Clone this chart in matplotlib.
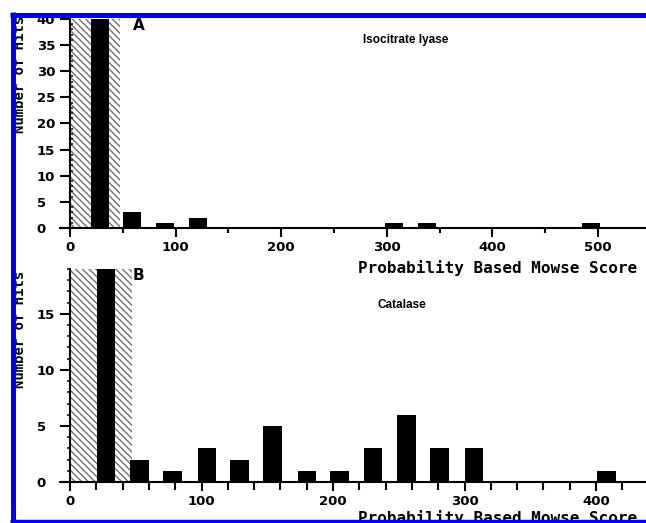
import numpy as np
import matplotlib
matplotlib.use("Agg")
import matplotlib.pyplot as plt
from matplotlib.lines import Line2D
from matplotlib.ticker import MultipleLocator

W, H = 646, 523

# panel A - isocitrate lyase (first bar runs off the scale)
a_centers = [28, 59, 90, 121, 307, 338, 493]
a_counts = [45, 3, 1, 2, 1, 1, 1]
# panel B - catalase
b_centers = [27.5, 53, 78, 104, 129, 154, 180, 205, 230.5, 256, 281, 307, 408]
b_counts = [22, 2, 1, 3, 2, 5, 1, 1, 3, 6, 3, 3, 1]

# shaded (hatched) score region, same in both panels
band = (1, 47)

xlabel = "Probability Based Mowse Score"
ylabel = "Number of Hits"

plt.rcParams['hatch.linewidth'] = 1.0

fig = plt.figure(figsize=(W / 100, H / 100), dpi=100)


def px(x0, y0, x1, y1):
    # pixel box (top-left origin) -> figure rect
    return [x0 / W, 1 - y1 / H, (x1 - x0) / W, (y1 - y0) / H]


tick_font = dict(family='DejaVu Sans', weight='bold', size=9.5)


def panel(rect, centers, counts, width, xlim, ylim, xmaj, xmin, ymaj, ymin_dir,
          xmin_len):
    ax = fig.add_axes(rect)
    ax.axvspan(band[0], band[1], facecolor='white', edgecolor='#707070',
               hatch='\\\\\\\\\\', linewidth=0, zorder=1)
    ax.bar(centers, counts, width=width, color='black', zorder=2)
    ax.set_xlim(*xlim)
    ax.set_ylim(*ylim)
    ax.spines['top'].set_visible(False)
    ax.spines['right'].set_visible(False)
    ax.spines['left'].set_position(('data', 0))
    for s in ('left', 'bottom'):
        ax.spines[s].set_linewidth(1.5)
        ax.spines[s].set_zorder(3)
    ax.xaxis.set_major_locator(MultipleLocator(xmaj))
    ax.xaxis.set_minor_locator(MultipleLocator(xmin))
    ax.yaxis.set_major_locator(MultipleLocator(ymaj))
    ax.yaxis.set_minor_locator(MultipleLocator(1))
    ax.tick_params(axis='x', which='major', direction='out', length=6.3, width=1.5, pad=3)
    ax.tick_params(axis='x', which='minor', direction='out', length=xmin_len, width=1.5)
    ax.tick_params(axis='y', which='major', direction='out', length=7, width=1.5, pad=17)
    ax.tick_params(axis='y', which='minor', direction=ymin_dir, length=2.3, width=1.1)
    ax.set_xticks(np.arange(0, xlim[1], xmaj))
    ax.set_yticks(np.arange(0, ylim[1] + 0.1, ymaj))
    for lbl in ax.get_xticklabels() + ax.get_yticklabels():
        lbl.set_fontproperties(tick_font)
    for lbl in ax.get_yticklabels():
        lbl.set_ha('left')
    ax.patch.set_alpha(0)
    return ax


axA = panel(px(60, 19, 646, 228), a_centers, a_counts, 17, (-9.5, 545.5), (0, 40),
            100, 50, 5, 'in', 3.6)
axB = panel(px(60, 269, 646, 482), b_centers, b_counts, 14, (-7.6, 438), (0, 19),
            100, 20, 5, 'out', 5.5)

mono = dict(family='DejaVu Sans Mono', weight='bold')

fig.text(133 / W, 1 - 18 / H, 'A', fontsize=11, weight='bold', va='top', ha='left')
fig.text(133 / W, 1 - 268 / H, 'B', fontsize=11, weight='bold', va='top', ha='left')
fig.text(363 / W, 1 - 34 / H, 'Isocitrate lyase', family='Liberation Sans',
         weight='bold', fontsize=8.5, va='top', ha='left')
fig.text(377 / W, 1 - 299 / H, 'Catalase', family='Liberation Sans',
         weight='bold', fontsize=8.5, va='top', ha='left')

fig.text(358 / W, 1 - 260 / H, xlabel, fontsize=11.5, va='top', ha='left', **mono)
fig.text(358 / W, 1 - 510 / H, xlabel, fontsize=11.5, va='top', ha='left', **mono)
fig.text(20 / W, 1 - 74 / H, ylabel, fontsize=10, rotation=90, va='center', ha='center', **mono)
fig.text(20 / W, 1 - 329 / H, ylabel, fontsize=10, rotation=90, va='center', ha='center', **mono)


# blue frame (left, top, bottom)
def fline(xs, ys, lw):
    fig.add_artist(Line2D([x / W for x in xs], [1 - y / H for y in ys],
                          transform=fig.transFigure, color='#0000ff',
                          linewidth=lw, zorder=10, solid_capstyle='butt'))


fline([12.5, 12.5], [12, 523], 3.6)
fline([10, 646], [14.5, 14.5], 3.6)
fline([10, 646], [521, 521], 2.5)
# white margin above and left of the frame
fig.add_artist(plt.Rectangle((0, 1 - 12 / H), 1, 12 / H, transform=fig.transFigure,
                             color='white', zorder=9))
fig.add_artist(plt.Rectangle((0, 0), 10 / W, 1, transform=fig.transFigure,
                             color='white', zorder=9))

fig.savefig('out.png', dpi=100)
